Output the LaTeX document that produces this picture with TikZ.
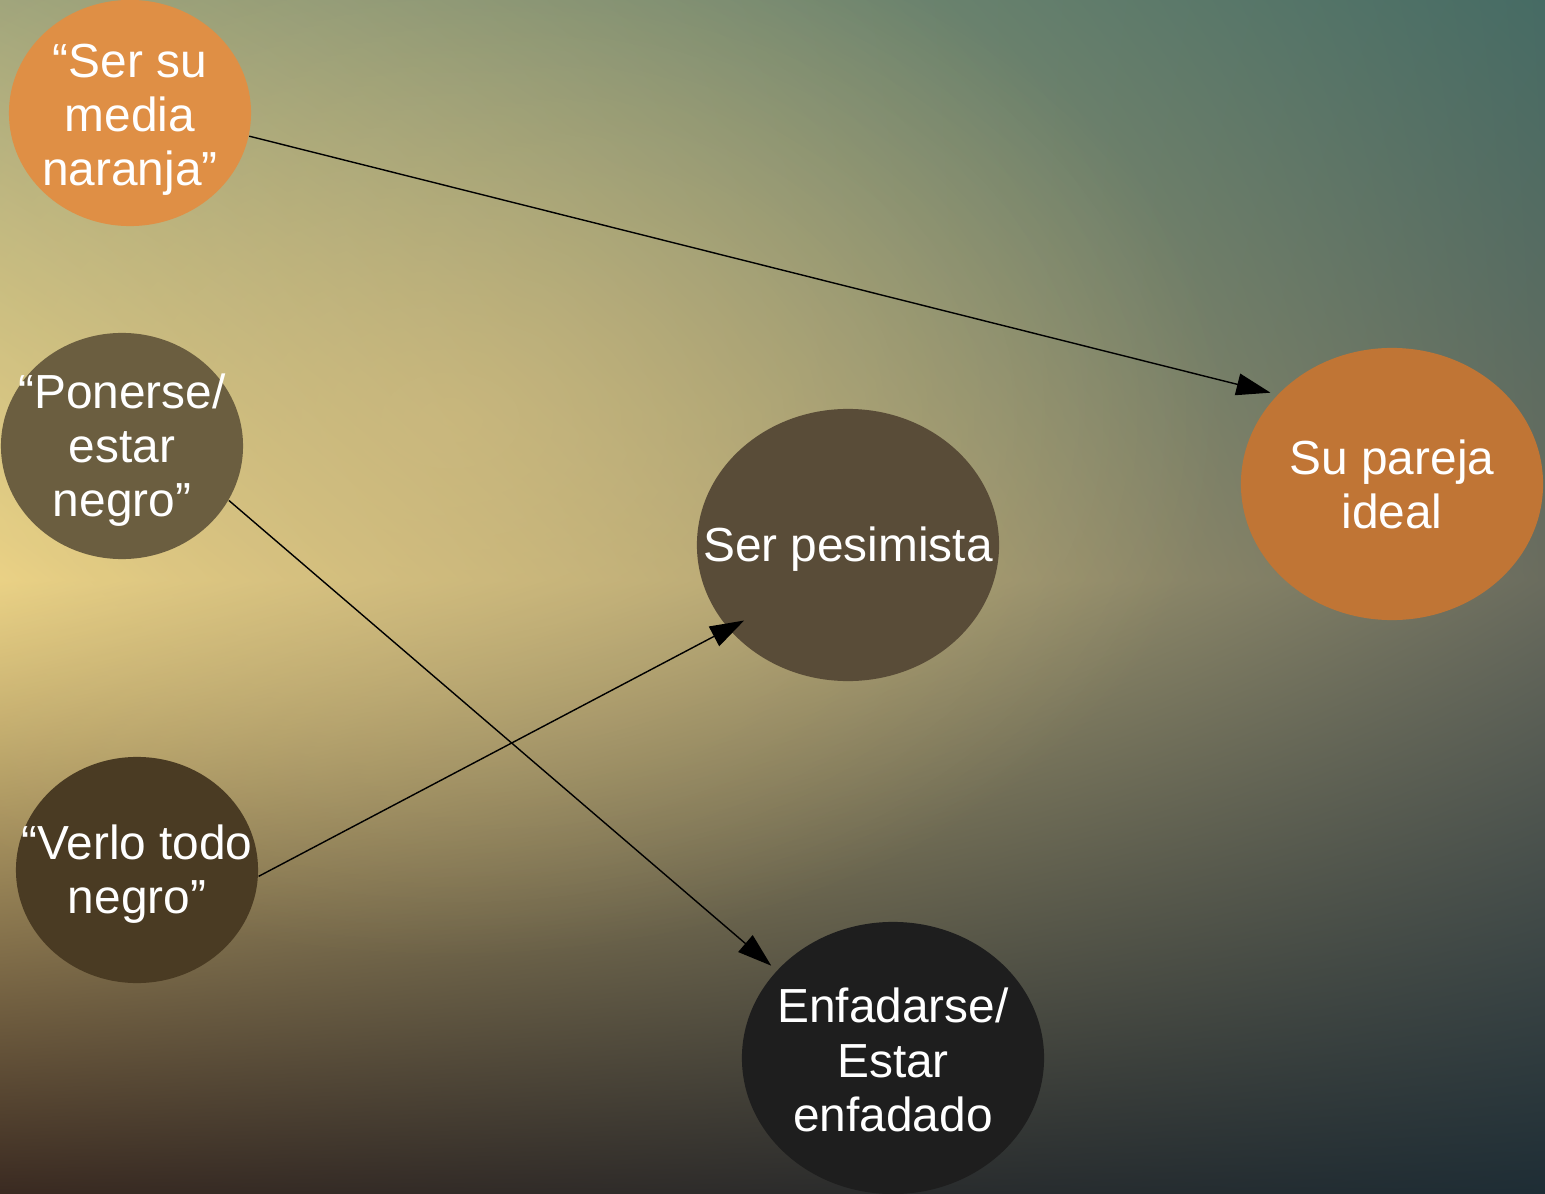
\documentclass[tikz,border=0pt]{standalone}
\usepackage{fontspec}
\setmainfont{Liberation Sans}
\usetikzlibrary{shapes.geometric,arrows.meta,positioning,shadings,fadings}

\definecolor{bgTL}{HTML}{A0A57C}
\definecolor{bgTR}{HTML}{466B64}
\definecolor{bgML}{HTML}{EED687}
\definecolor{bgMR}{HTML}{6A6C5E}
\definecolor{bgBL}{HTML}{3A2A21}
\definecolor{bgBR}{HTML}{1E2D35}
\definecolor{glow}{HTML}{D9BF80}
\tikzfading[name=glowfade, inner color=transparent!0, outer color=transparent!100]

\begin{document}
\begin{tikzpicture}[x=0.01cm, y=-0.01cm,
      blob/.style={ellipse,minimum width=2.42cm,minimum height=2.26cm,
                   inner sep=0pt},
      big/.style={blob,minimum width=3.02cm,minimum height=2.72cm},
      txt/.style={align=center,text=white,inner sep=0pt,yshift=-0.04cm,
                  font=\fontsize{13.6}{15.4}\selectfont},
      link/.style={-{Triangle[length=0.34cm,width=0.22cm]},black,line width=0.4pt,
                   shorten >=2pt}]
    % background
    \useasboundingbox (0,0) rectangle (1545,1194);
    \shade[upper left=bgTL, upper right=bgTR, lower left=bgML, lower right=bgMR]
      (0,0) rectangle (1545,580);
    \shade[upper left=bgML, upper right=bgMR, lower left=bgBL, lower right=bgBR]
      (0,580) rectangle (1545,1194);
    \fill[glow, fill opacity=0.55, path fading=glowfade]
      (450,420) ellipse (7.8cm and 5.4cm);

    % ellipses
    \node[blob,fill={rgb,255:red,223;green,143;blue,69}] (naranja) at (130,113) {};
    \node[blob,fill={rgb,255:red,107;green,94;blue,64}] (ponerse) at (122,446) {};
    \node[blob,fill={rgb,255:red,74;green,59;blue,35}] (verlo) at (137,870) {};
    \node[big,fill={rgb,255:red,89;green,76;blue,56}] (pesimista) at (848,545) {};
    \node[big,fill={rgb,255:red,192;green,117;blue,53}] (pareja) at (1392,484) {};
    \node[big,fill={rgb,255:red,30;green,30;blue,30}] (enfadarse) at (893,1058) {};

    % texts
    \node[txt] (naranjaT) at (130,116) {``Ser su\\media\\naranja''};
    \node[txt] (ponerseT) at (ponerse) {``Ponerse/\\estar\\negro''};
    \node[txt] (verloT) at (verlo) {``Verlo todo\\negro''};
    \node[txt] (pesimistaT) at (pesimista) {Ser pesimista};
    \node[txt] (parejaT) at (1392,480) {Su pareja\\ideal};
    \node[txt] (enfadarseT) at (893,1056) {Enfadarse/\\Estar\\enfadado};

    \draw[link] (naranja.-11) -- (pareja.142);
    \draw[link] (ponerse.-27) -- (enfadarse.143);
    \draw[link,shorten >=-0.18cm] (verlo.-3) -- (pesimista.215);
  \end{tikzpicture}
\end{document}
